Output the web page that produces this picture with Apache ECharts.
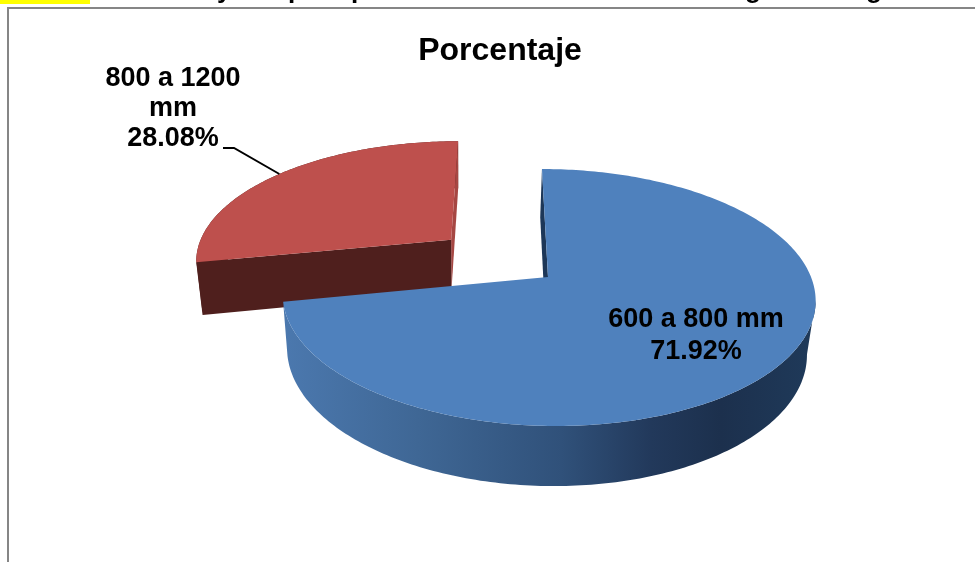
<!DOCTYPE html>
<html>
<head>
<meta charset="utf-8">
<style>html,body{margin:0;padding:0;background:#fff}#c{width:975px;height:562px}</style>
<script src="https://cdn.jsdelivr.net/npm/echarts@6/dist/echarts.min.js"></script>
</head>
<body>
<div id="c"></div>
<script>
// ---- data ----
const chartTitle = 'Porcentaje';
const categories = ['600 a 800 mm', '800 a 1200 mm'];
const percentages = [71.92, 28.08];
const percentLabels = ['71.92%', '28.08%'];
const explosion = [0, 0.49];

// ---- styles ----
const topColors = ['#4F81BD', '#BE504D'];
const startWallColors = ['#1D3758', '#4F1F1D'];
const endWallColors = ['none', '#A64743'];
const FONT = '"Liberation Sans", Arial, sans-serif';

// ---- projection of the tilted pie plane (perspective) ----
const P = {x0: 548, y0: 277, c: 263, d: -7, a: 125.2, b: 0.1595, conv: 0.0226, convX: 462};
function project(u, v) {
  const w = 1 + P.b * v;
  return [P.x0 + (P.c * u + P.d * v) / w, P.y0 - P.a * v / w];
}
function drop(pt) {
  const h = 47 + (pt[1] - 141) * 0.046;
  return [pt[0] + (P.convX - pt[0]) * P.conv * (h / 50), pt[1] + h];
}
const total = percentages.reduce((s, v) => s + v, 0);
function sliceGeom(i) {
  let before = 0;
  for (let k = 0; k < i; k++) before += percentages[k];
  const a0 = before / total * Math.PI * 2;
  const a1 = (before + percentages[i]) / total * Math.PI * 2;
  const mid = (a0 + a1) / 2;
  const ou = Math.sin(mid) * explosion[i], ov = Math.cos(mid) * explosion[i];
  const n = Math.max(24, Math.round((a1 - a0) * 60));
  const rim = [];
  for (let k = 0; k <= n; k++) {
    const t = a0 + (a1 - a0) * k / n;
    rim.push(project(ou + Math.sin(t), ov + Math.cos(t)));
  }
  return {apex: project(ou, ov), rim, mid: project(ou + Math.sin(mid), ov + Math.cos(mid))};
}

const blueWall = {
  type: 'linear', x: 285, y: 0, x2: 816, y2: 0, global: true,
  colorStops: [
    {offset: 0, color: '#4B78AE'}, {offset: 0.25, color: '#3F6795'},
    {offset: 0.52, color: '#30517A'}, {offset: 0.69, color: '#22395B'},
    {offset: 0.82, color: '#1C304D'}, {offset: 1, color: '#1F3A5A'}
  ]
};
const outerWallFills = [blueWall, '#4F1F1D'];

function renderSlice(params) {
  const i = params.dataIndex;
  const g = sliceGeom(i);
  const base = i === 0 ? 100 : 0;
  const bottomRim = g.rim.map(drop);
  const last = g.rim.length - 1;
  let iMax = 0, iMin = 0;
  g.rim.forEach((p, k) => {
    if (p[0] > g.rim[iMax][0]) iMax = k;
    if (p[0] < g.rim[iMin][0]) iMin = k;
  });
  const lo = Math.min(iMax, iMin), hi = Math.max(iMax, iMin);
  const outer = g.rim.slice(lo, hi + 1).concat(bottomRim.slice(lo, hi + 1).reverse());
  const children = [
    {type: 'polygon', z2: base + 1, shape: {points: outer}, style: {fill: outerWallFills[i]}},
    {type: 'polygon', z2: base + 2, shape: {points: [g.apex, g.rim[last], bottomRim[last], drop(g.apex)]},
      style: {fill: endWallColors[i]}},
    {type: 'polygon', z2: base + 3, shape: {points: [g.apex, g.rim[0], bottomRim[0], drop(g.apex)]},
      style: {fill: startWallColors[i]}},
    {type: 'polygon', z2: base + 4, shape: {points: [g.apex].concat(g.rim)}, style: {fill: topColors[i]}}
  ];
  if (i === 0) {
    children.push({type: 'text', z2: 1000, x: 696, y: 336, style: {
      text: categories[0] + '\n' + percentLabels[0], align: 'center', verticalAlign: 'middle',
      font: 'bold 27px ' + FONT, fill: '#000', lineHeight: 32}});
  } else {
    children.push({type: 'text', z2: 1000, x: 173, y: 109, style: {
      text: '800 a 1200\nmm\n' + percentLabels[1], align: 'center', verticalAlign: 'middle',
      font: 'bold 27px ' + FONT, fill: '#000', lineHeight: 30}});
    children.push({type: 'polyline', z2: 1000, shape: {points: [[223, 148], [234, 148], g.mid]},
      style: {fill: null, stroke: '#000', lineWidth: 2}});
  }
  return {type: 'group', children};
}

const chart = echarts.init(document.getElementById('c'), null, {renderer: 'canvas'});
chart.setOption({
  animation: false,
  backgroundColor: '#fff',
  title: {text: chartTitle, left: 495, top: 30, textAlign: 'center',
    textStyle: {fontFamily: FONT, fontWeight: 'bold', fontSize: 32, color: '#000'}},
  graphic: [
    {type: 'rect', shape: {x: 0, y: 0, width: 90, height: 4}, style: {fill: '#FFFF00'}, silent: true},
    {type: 'polyline', shape: {points: [[8, 562], [8, 8], [975, 8]]},
      style: {fill: null, stroke: '#868686', lineWidth: 2}, silent: true},
    ...[['y', 217], ['p', 288], ['p', 351], ['g', 745], ['g', 866]].map(([t, x]) => ({
      type: 'text', x, y: 4, silent: true,
      style: {text: t, font: 'bold 26px ' + FONT, fill: '#000', verticalAlign: 'bottom'}
    }))
  ],
  series: [{
    type: 'custom',
    coordinateSystem: 'none',
    silent: true,
    renderItem: renderSlice,
    data: percentages.map((v, i) => ({name: categories[i], value: v}))
  }]
});
</script>
</body>
</html>
